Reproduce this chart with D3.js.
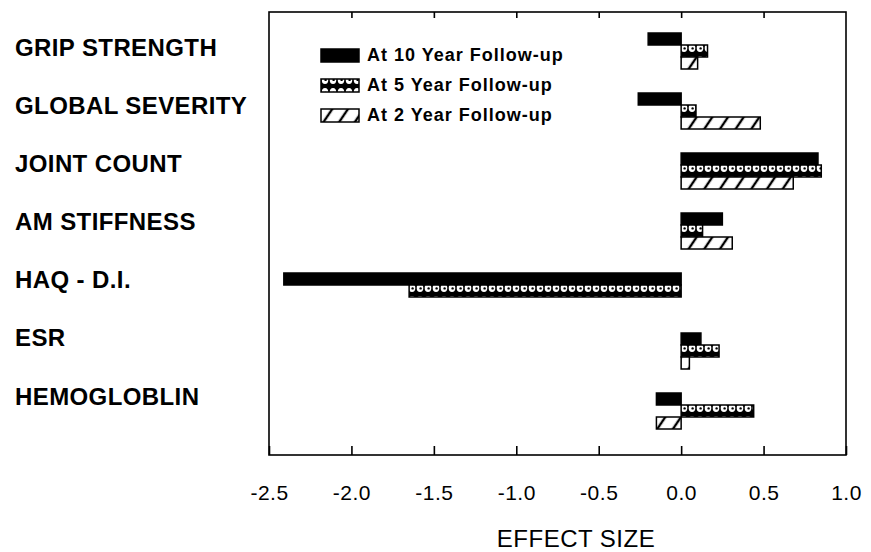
<!DOCTYPE html>
<html>
<head>
<meta charset="utf-8">
<script src="https://cdn.jsdelivr.net/npm/d3@7"></script>
<style>
  body { margin: 0; background: #fff; }
  svg { display: block; }
  text { font-family: "Liberation Sans", Arial, Helvetica, sans-serif; fill: #000; }
</style>
</head>
<body>
<div id="chart"></div>
<script>
const width = 871;
const height = 552;

// data
const categories = ['GRIP STRENGTH', 'GLOBAL SEVERITY', 'JOINT COUNT', 'AM STIFFNESS', 'HAQ - D.I.', 'ESR', 'HEMOGLOBLIN'];
const seriesKeys = ['y10', 'y5', 'y2'];
const seriesLabels = ['At 10 Year Follow-up', 'At 5 Year Follow-up', 'At 2 Year Follow-up'];
const tenYear = [-0.20, -0.26, 0.83, 0.25, -2.41, 0.12, -0.15];
const fiveYear = [0.16, 0.09, 0.85, 0.13, -1.65, 0.23, 0.44];
const twoYear = [0.10, 0.48, 0.68, 0.31, null, 0.05, -0.15];
const tickValues = [-2.5, -2.0, -1.5, -1.0, -0.5, 0.0, 0.5, 1.0];
const innerTicks = [-2.0, -1.5, -1.0, -0.5, 0.0, 0.5];

const seriesValues = { y10: tenYear, y5: fiveYear, y2: twoYear };
const rows = categories.map((c, i) => ({
  name: c,
  index: i,
  values: seriesKeys.map(k => ({ key: k, value: seriesValues[k][i], index: i }))
}));

const frameTop = 12;
const frameBottom = 455;

const svg = d3.select('#chart')
  .append('svg')
  .attr('width', width)
  .attr('height', height);

const defs = svg.append('defs');

const x = d3.scaleLinear()
  .domain([-2.5, 1.0])
  .range([269, 846]);

const y0 = d3.scaleBand()
  .domain(categories)
  .range([33, 429])
  .paddingInner(0.4)
  .paddingOuter(0);

const y1 = d3.scaleBand()
  .domain(seriesKeys)
  .range([0, y0.bandwidth()]);

const labelY = d3.scalePoint()
  .domain(categories)
  .range([47, 396]);

const legendY = d3.scalePoint()
  .domain(seriesKeys)
  .range([55, 115]);

// dotted fill for the 5 year bars: one row of white beads with a dot, aligned to each bar
function addDots(id, top, h) {
  const p = defs.append('pattern')
    .attr('id', id)
    .attr('patternUnits', 'userSpaceOnUse')
    .attr('x', 0)
    .attr('y', top)
    .attr('width', 8)
    .attr('height', h);
  p.append('rect').attr('width', 8).attr('height', h).attr('fill', '#000');
  p.append('ellipse')
    .attr('cx', 4).attr('cy', h / 2)
    .attr('rx', 3.3).attr('ry', h / 2 - 2)
    .attr('fill', '#fff');
  p.append('circle').attr('cx', 4.6).attr('cy', h / 2 + 0.4).attr('r', 1.2).attr('fill', '#000');
}
rows.forEach(r => addDots(`dots-${r.index}`, y0(r.name) + y1('y5'), y1.bandwidth()));
addDots('dots-legend', legendY('y5') - 6, 13);

// hatch fill for the 2 year bars
const hatch = defs.append('pattern')
  .attr('id', 'hatch')
  .attr('patternUnits', 'userSpaceOnUse')
  .attr('width', 13)
  .attr('height', 13)
  .attr('patternTransform', 'rotate(34)');
hatch.append('rect').attr('width', 13).attr('height', 13).attr('fill', '#fff');
hatch.append('line')
  .attr('x1', 6).attr('y1', 0).attr('x2', 6).attr('y2', 13)
  .attr('stroke', '#000').attr('stroke-width', 2.4);

function fillFor(key, idx) {
  if (key === 'y10') return '#000';
  if (key === 'y5') return `url(#dots-${idx})`;
  return 'url(#hatch)';
}

// frame
svg.append('rect')
  .attr('x', x(-2.5))
  .attr('y', frameTop)
  .attr('width', x(1.0) - x(-2.5))
  .attr('height', frameBottom - frameTop)
  .attr('fill', 'none')
  .attr('stroke', '#000')
  .attr('stroke-width', 1.6);

// bottom axis: inward ticks, labels below
const fmt = d3.format('.1f');
const bottomAxis = svg.append('g')
  .attr('transform', `translate(0,${frameBottom})`)
  .call(d3.axisBottom(x)
    .tickValues(tickValues)
    .tickSizeInner(-9)
    .tickSizeOuter(0)
    .tickPadding(30)
    .tickFormat(d => fmt(d).replace('\u2212', '-')));
bottomAxis.select('.domain').remove();
bottomAxis.selectAll('line').attr('stroke-width', 1.6);
bottomAxis.selectAll('text')
  .attr('font-size', 21)
  .attr('letter-spacing', 0.5)
  .style('font-family', '"Liberation Sans", Arial, sans-serif');

// top axis: inward ticks only
const topAxis = svg.append('g')
  .attr('transform', `translate(0,${frameTop})`)
  .call(d3.axisTop(x)
    .tickValues(innerTicks)
    .tickSizeInner(-6)
    .tickSizeOuter(0)
    .tickFormat(''));
topAxis.select('.domain').remove();
topAxis.selectAll('line').attr('stroke-width', 1.6);

// bars
const groups = svg.append('g')
  .selectAll('g')
  .data(rows)
  .join('g')
  .attr('transform', d => `translate(0,${y0(d.name)})`);

groups.selectAll('rect')
  .data(d => d.values.filter(v => v.value !== null))
  .join('rect')
  .attr('x', d => x(Math.min(0, d.value)))
  .attr('y', d => y1(d.key))
  .attr('width', d => Math.abs(x(d.value) - x(0)))
  .attr('height', y1.bandwidth())
  .attr('fill', d => fillFor(d.key, d.index))
  .attr('stroke', '#000')
  .attr('stroke-width', 1.5);

// category labels
svg.append('g')
  .selectAll('text')
  .data(categories)
  .join('text')
  .attr('x', 15)
  .attr('y', d => labelY(d))
  .attr('dy', '0.36em')
  .attr('font-size', 24)
  .attr('font-weight', 'bold')
  .attr('letter-spacing', 0.4)
  .text(d => d);

// legend
const legend = svg.append('g')
  .selectAll('g')
  .data(seriesKeys)
  .join('g')
  .attr('transform', d => `translate(321,${legendY(d)})`);

legend.append('rect')
  .attr('x', 0)
  .attr('y', -6)
  .attr('width', 38)
  .attr('height', 13)
  .attr('fill', d => (d === 'y5' ? 'url(#dots-legend)' : fillFor(d)))
  .attr('stroke', '#000')
  .attr('stroke-width', 1.5);

legend.append('text')
  .attr('x', 46)
  .attr('y', 0)
  .attr('dy', '0.36em')
  .attr('font-size', 18)
  .attr('font-weight', 'bold')
  .attr('letter-spacing', 1)
  .text((d, i) => seriesLabels[i]);

// axis title
svg.append('text')
  .attr('x', 576)
  .attr('y', 538)
  .attr('dy', '0.36em')
  .attr('text-anchor', 'middle')
  .attr('font-size', 24)
  .attr('letter-spacing', 0.5)
  .text('EFFECT SIZE');
</script>
</body>
</html>
